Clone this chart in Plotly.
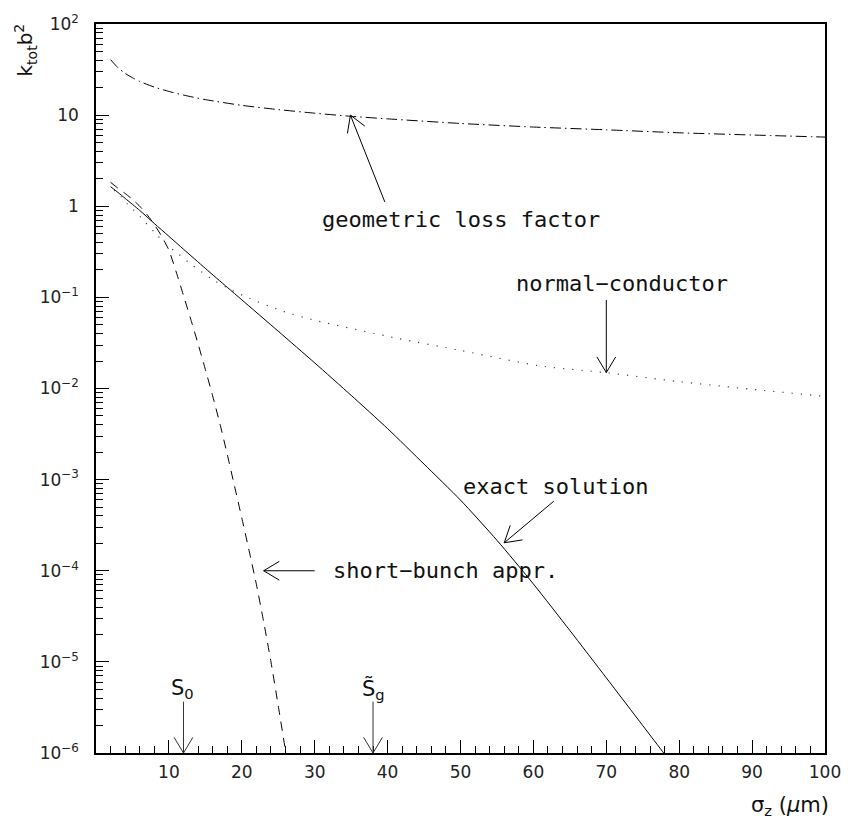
import math
import plotly.graph_objects as go

# ---------------- data ----------------
sigma_geo = [2, 3, 4, 5, 6, 8, 10, 12, 15, 20, 25, 30, 35, 40, 50, 60, 70, 80, 90, 100]
k_geo = [40.6, 33.2, 28.7, 25.7, 23.4, 20.3, 18.2, 16.6, 14.8, 12.8, 11.5, 10.5, 9.7,
         9.1, 8.1, 7.4, 6.9, 6.4, 6.05, 5.74]

sigma_nc = [2.5, 3.4, 4.2, 5.1, 6, 8.5, 9.5, 11.4, 13.3, 16.4, 18.7, 21, 25.5, 30, 41.3,
            50, 60.7, 70, 80, 90, 100]
k_nc = [1.5, 1.28, 1.08, 0.92, 0.78, 0.47, 0.39, 0.295, 0.222, 0.15, 0.119, 0.098, 0.071,
        0.056, 0.0356, 0.0262, 0.0178, 0.0149, 0.0119, 0.0098, 0.0082]

sigma_ex = [2, 3, 4, 6, 8, 10, 12, 15, 18, 20, 25, 30, 35, 40, 45, 50, 55, 60, 65, 70,
            75, 78, 80]
k_ex = [1.64, 1.42, 1.22, 0.90, 0.647, 0.468, 0.338, 0.208, 0.129, 0.094, 0.0425, 0.0191,
        0.00841, 0.00363, 0.00148, 5.96e-4, 2.16e-4, 7.16e-5, 2.21e-5, 6.68e-6, 2.0e-6,
        9.7e-7, 6.0e-7]

sigma_sb = [2, 3, 4, 5, 6, 7, 8, 9, 10, 11, 12, 13, 14, 15, 16, 17, 18, 19, 20, 21, 22,
            23, 24, 25, 26, 26.5]
k_sb = [1.83, 1.58, 1.38, 1.19, 1.0, 0.81, 0.63, 0.47, 0.33, 0.19, 0.105, 0.0575, 0.0309,
        0.0162, 0.0083, 0.0041, 0.0019, 8.5e-4, 3.8e-4, 1.66e-4, 7.1e-5, 2.75e-5, 1.0e-5,
        3.3e-6, 1.05e-6, 5.8e-7]

y_tickvals = [1e-6, 1e-5, 1e-4, 1e-3, 1e-2, 1e-1, 1, 10, 100]
y_ticktext = ["10<sup>\u22126</sup>", "10<sup>\u22125</sup>", "10<sup>\u22124</sup>",
              "10<sup>\u22123</sup>", "10<sup>\u22122</sup>", "10<sup>\u22121</sup>",
              "1", "10", "10<sup>2</sup>"]
x_tickvals = [10, 20, 30, 40, 50, 60, 70, 80, 90, 100]

# marked bunch lengths
s0 = 12
sg = 38

# ---------------- layout geometry ----------------
W, H = 853, 828
ML, MR, MT, MB = 96, 20, 16, 75
PW, PH = W - ML - MR, H - MT - MB
XR = (0, 100)
YR = (-6, 2)
px_per_x = PW / (XR[1] - XR[0])
px_per_dec = PH / (YR[1] - YR[0])

LABEL_FONT = "DejaVu Sans Mono"
TICK_FONT = "DejaVu Sans"

fig = go.Figure()
fig.add_trace(go.Scatter(x=sigma_geo, y=k_geo, mode="lines", line_shape="spline",
                         line=dict(color="black", width=1, dash="11px,4px,1.5px,4px",
                                   smoothing=0.6)))
fig.add_trace(go.Scatter(x=sigma_nc, y=k_nc, mode="lines", line_shape="spline",
                         line=dict(color="#444", width=1.2, dash="1.2px,8px",
                                   smoothing=0.6)))
fig.add_trace(go.Scatter(x=sigma_ex, y=k_ex, mode="lines", line_shape="spline",
                         line=dict(color="black", width=1, smoothing=0.6)))
fig.add_trace(go.Scatter(x=sigma_sb, y=k_sb, mode="lines", line_shape="spline",
                         line=dict(color="black", width=1, dash="9px,7px",
                                   smoothing=0.6)))

txt = dict(color="#111", size=22, family=LABEL_FONT)
ann = []
ann.append(dict(x=50.1, y=-0.142, text="geometric loss factor", showarrow=False,
                xref="x", yref="y", font=txt))
ann.append(dict(x=72.1, y=-0.848, text="normal\u2212conductor", showarrow=False,
                xref="x", yref="y", font=txt))
ann.append(dict(x=63.0, y=-3.07, text="exact solution", showarrow=False,
                xref="x", yref="y", font=txt))
ann.append(dict(x=32.2, y=-4.0, text="short\u2212bunch appr.", showarrow=False,
                xref="x", yref="y", xanchor="left", font=txt))
sfont = dict(color="#111", size=21, family=TICK_FONT)
ann.append(dict(x=s0 - 0.1, y=-5.30, text="S<sub>0</sub>", showarrow=False,
                xref="x", yref="y", font=sfont))
ann.append(dict(x=sg, y=-5.30, text="S\u0303<sub>g</sub>", showarrow=False,
                xref="x", yref="y", font=sfont))


def add_arrow(tip, tail, color="black"):
    """Shaft from tail to tip plus an open V head, drawn as annotation lines."""
    tx, ty = tip
    lx, ly = tail
    ann.append(dict(x=tx, y=ty, ax=lx, ay=ly, xref="x", yref="y", axref="x",
                    ayref="y", text="", showarrow=True, arrowhead=0, arrowwidth=1,
                    arrowcolor=color))
    dxp = (lx - tx) * px_per_x
    dyp = -(ly - ty) * px_per_dec
    n = math.hypot(dxp, dyp)
    ux, uy = dxp / n, dyp / n
    ang = math.radians(31)
    length = 20
    for s in (1, -1):
        c, si = math.cos(s * ang), math.sin(s * ang)
        ox = (ux * c - uy * si) * length
        oy = (ux * si + uy * c) * length
        ann.append(dict(x=tx, y=ty, ax=ox, ay=oy, xref="x", yref="y", text="",
                        showarrow=True, arrowhead=0, arrowwidth=1, arrowcolor=color))


add_arrow((34.9, 1.0), (39.7, 0.031))
add_arrow((70.0, -1.825), (70.0, -1.011))
add_arrow((56.0, -3.693), (63.0, -3.223))
add_arrow((23.0, -4.0), (30.2, -4.0))
add_arrow((s0, -6.0), (s0, -5.42), color="#333")
add_arrow((sg, -6.0), (sg, -5.42), color="#333")

# axis titles
ann.append(dict(x=(25 - ML) / PW, y=(H - MB - 42) / PH, xref="paper", yref="paper",
                showarrow=False, xanchor="center", yanchor="middle",
                text="k<sub>tot</sub>b<sup>2</sup>", textangle=-90,
                font=dict(color="#111", size=20, family=TICK_FONT)))
ann.append(dict(x=(839 - ML) / PW, y=(H - MB - 807) / PH, xref="paper", yref="paper",
                showarrow=False, xanchor="right", yanchor="middle",
                text="\u03c3<sub>z</sub> (<i>\u03bc</i>m)",
                font=dict(color="#111", size=21, family=TICK_FONT)))

fig.update_layout(
    width=W, height=H,
    margin=dict(l=ML, r=MR, t=MT, b=MB),
    paper_bgcolor="white", plot_bgcolor="white",
    showlegend=False,
    annotations=ann,
    font=dict(family=TICK_FONT, color="black", size=17),
)

fig.update_xaxes(range=list(XR), tickmode="array", tickvals=x_tickvals,
                 ticks="inside", ticklen=13, tickwidth=1, tickcolor="black",
                 showline=True, linecolor="black", linewidth=1.5, mirror=True,
                 showgrid=False, zeroline=False, ticklabelstandoff=3,
                 tickfont=dict(size=17, family=TICK_FONT, color="#222"),
                 minor=dict(dtick=2, ticks="inside", ticklen=7, tickcolor="black",
                            tickwidth=1, showgrid=False))
fig.update_yaxes(type="log", range=list(YR), tickmode="array", tickvals=y_tickvals,
                 ticktext=y_ticktext,
                 ticks="inside", ticklen=13, tickwidth=1, tickcolor="black",
                 showline=True, linecolor="black", linewidth=1.5, mirror=True,
                 showgrid=False, zeroline=False, ticklabelstandoff=12,
                 tickfont=dict(size=17, family=TICK_FONT, color="#222"),
                 minor=dict(dtick="D1", ticks="inside", ticklen=7, tickcolor="black",
                            tickwidth=1, showgrid=False))

fig.write_html("out.html")
